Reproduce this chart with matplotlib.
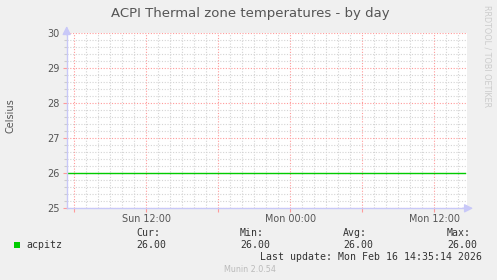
import matplotlib
matplotlib.use("Agg")
import matplotlib.pyplot as plt
from matplotlib.ticker import MultipleLocator, FixedLocator, NullFormatter

# ---- data (hours since Sun 00:00) ----
times = [5.4, 9.0, 12.0, 15.0, 18.0, 21.0, 24.0, 27.0, 30.0, 33.0, 36.0, 38.6]
temps = [26.0, 26.0, 26.0, 26.0, 26.0, 26.0, 26.0, 26.0, 26.0, 26.0, 26.0, 26.0]
x_ticks = [12, 24, 36]
x_tick_labels = ["Sun 12:00", "Mon 00:00", "Mon 12:00"]
x_range = (5.37, 38.7)
y_range = (25, 30)
series_name = "acpitz"
stat_labels = ["Cur:", "Min:", "Avg:", "Max:"]
stat_values = ["26.00", "26.00", "26.00", "26.00"]
title = "ACPI Thermal zone temperatures - by day"
y_label = "Celsius"
last_update = "Last update: Mon Feb 16 14:35:14 2026"
footer = "Munin 2.0.54"
side_text = "RRDTOOL / TOBI OETIKER"

W, H = 497, 280
bg = "#f0f0f0"
fig = plt.figure(figsize=(W / 100, H / 100), dpi=100, facecolor=bg)

L, R, T, B = 66.7, 466.7, 33.0, 208.3
ax = fig.add_axes([L / W, 1 - B / H, (R - L) / W, (B - T) / H])
ax.set_facecolor("white")
ax.set_xlim(*x_range)
ax.set_ylim(*y_range)

# grid
ax.xaxis.set_major_locator(FixedLocator([6, 12, 18, 24, 30, 36]))
ax.xaxis.set_minor_locator(MultipleLocator(1))
ax.yaxis.set_major_locator(MultipleLocator(1))
ax.yaxis.set_minor_locator(MultipleLocator(0.2))
ax.grid(which="minor", color="#d4d4d4", linestyle=(0, (1, 1.5)), linewidth=0.8)
ax.grid(which="major", color="#ff9a9a", linestyle=(0, (1, 1.5)), linewidth=0.8)
ax.set_axisbelow(True)

ax.xaxis.set_major_formatter(NullFormatter())
ax.tick_params(axis="x", which="major", length=3, color="#ff9a9a", width=0.8)
ax.tick_params(axis="x", which="minor", length=0)
ax.tick_params(axis="y", which="major", length=3, color="#ff9a9a", width=0.8,
               labelsize=7, labelcolor="#555555", pad=2)
ax.tick_params(axis="y", which="minor", length=2, color="#cccccc", width=0.8)

for s in ["top", "right"]:
    ax.spines[s].set_visible(False)
axis_col = "#c8c8f8"
for s in ["left", "bottom"]:
    ax.spines[s].set_color(axis_col)
    ax.spines[s].set_linewidth(1.0)

# x tick labels
for xt, lab in zip(x_ticks, x_tick_labels):
    ax.text(xt, -0.035, lab, transform=ax.get_xaxis_transform(), ha="center", va="top",
            fontsize=6.9, color="#555555")

# arrows
ax.annotate("", xy=(0, 1.04), xytext=(0, 0.99), xycoords="axes fraction",
            arrowprops=dict(arrowstyle="-|>,head_width=0.25,head_length=0.5",
                            color=axis_col, lw=1.0, shrinkA=0, shrinkB=0), annotation_clip=False)
ax.annotate("", xy=(1.016, 0), xytext=(0.99, 0), xycoords="axes fraction",
            arrowprops=dict(arrowstyle="-|>,head_width=0.25,head_length=0.5",
                            color=axis_col, lw=1.0, shrinkA=0, shrinkB=0), annotation_clip=False)

# data line
ax.plot(times, temps, color="#00cc00", linewidth=1.0)

# texts
fig.text(250 / W, 1 - 14 / H, title, ha="center", va="center", fontsize=9.5, color="#555555")
fig.text(11 / W, 1 - 116 / H, y_label, ha="center", va="center", rotation=90,
         fontsize=7, color="#555555")
fig.text(487 / W, 1 - 56 / H, side_text, ha="center", va="center", rotation=270,
         fontsize=5.8, color="#cccccc")

mono = "DejaVu Sans Mono"
fig.patches.append(plt.Rectangle((14 / W, 1 - 248 / H), 6 / W, 6 / H,
                                 transform=fig.transFigure, facecolor="#00cc00",
                                 edgecolor="none"))
fs = 7.1
fig.text(26.7 / W, 1 - 245 / H, series_name, ha="left", va="center", family=mono,
         fontsize=fs, color="#333333")
stat_x = [136.7, 240.0, 343.3, 447.0]
for sx, lab, val in zip(stat_x, stat_labels, stat_values):
    fig.text(sx / W, 1 - 232.5 / H, lab, ha="left", va="center", family=mono,
             fontsize=fs, color="#333333")
    fig.text(sx / W, 1 - 244.5 / H, val, ha="left", va="center", family=mono,
             fontsize=fs, color="#333333")
fig.text(482.3 / W, 1 - 257 / H, last_update, ha="right", va="center", family=mono,
         fontsize=fs, color="#333333")
fig.text(250 / W, 1 - 269 / H, footer, ha="center", va="center", fontsize=5.8,
         color="#bbbbbb")

fig.savefig("out.png", dpi=100, facecolor=bg)
